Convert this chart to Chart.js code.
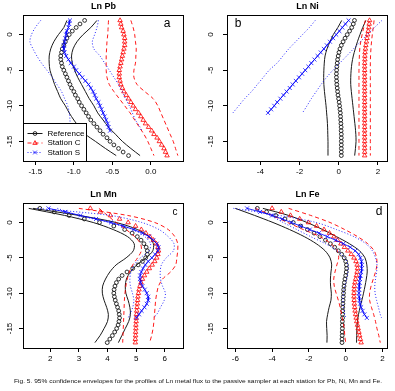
<!DOCTYPE html>
<html><head><meta charset="utf-8">
<script src="https://cdn.jsdelivr.net/npm/chart.js@4/dist/chart.umd.min.js"></script>
<style>
html,body{margin:0;padding:0;background:#fff;}
#wrap{position:relative;width:395px;height:391px;overflow:hidden;background:#fff;}
#wrap canvas{position:absolute;left:0;top:0;}
#cap{position:absolute;left:14px;top:378px;font-size:6px;font-family:"Liberation Sans",Arial,sans-serif;white-space:nowrap;color:#111;display:inline-block;transform-origin:0 0;line-height:6px;}
</style></head><body>
<div id="wrap">
<canvas id="ca" width="395" height="391"></canvas>
<canvas id="cb" width="395" height="391"></canvas>
<canvas id="cc" width="395" height="391"></canvas>
<canvas id="cd" width="395" height="391"></canvas>
<div id="cap">Fig. 5. 95% confidence envelopes for the profiles of Ln metal flux to the passive sampler at each station for Pb, Ni, Mn and Fe.</div>
</div>
<script>
// ---------- depths ----------
const depthFull = [2,1.5,1,0.5,0,-0.5,-1,-1.5,-2,-2.5,-3,-3.5,-4,-4.5,-5,-5.5,-6,-6.5,-7,-7.5,-8,-8.5,-9,-9.5,-10,-10.5,-11,-11.5,-12,-12.5,-13,-13.5,-14,-14.5,-15,-15.5,-16,-16.5,-17];
const depthS = [2,1.5,1,0.5,0,-0.5,-1,-1.5,-2,-2.5,-3,-3.5,-4,-4.5,-5,-5.5,-6,-6.5,-7,-7.5,-8,-8.5,-9,-9.5,-10,-10.5,-11,-11.5,-12,-12.5,-13,-13.5];
const depthNiS = [2,1.5,1,0.5,0,-0.5,-1,-1.5,-2,-2.5,-3,-3.5,-4,-4.5,-5,-5.5,-6,-6.5,-7,-7.5,-8,-8.5,-9,-9.5,-10,-10.5,-11];
const envDepth = [2,1,0,-1,-2,-3,-4,-5,-6,-7,-8,-9,-10,-11,-12,-13,-14,-15,-16,-17];
const envDepthS = [2,1,0,-1,-2,-3,-4,-5,-6,-7,-8,-9,-10,-11,-12,-13,-13.5];
const envDepthNiS = [2,1,0,-1,-2,-3,-4,-5,-6,-7,-8,-9,-10,-11];

// ---------- Ln Pb ----------
const pbRef = [-0.86,-0.92,-0.97,-1.02,-1.06,-1.09,-1.11,-1.13,-1.15,-1.16,-1.17,-1.17,-1.16,-1.15,-1.13,-1.11,-1.09,-1.07,-1.05,-1.03,-1.00,-0.98,-0.95,-0.93,-0.90,-0.87,-0.84,-0.81,-0.78,-0.74,-0.70,-0.66,-0.62,-0.57,-0.53,-0.48,-0.42,-0.36,-0.29];
const pbRefLo = [-1.09,-1.13,-1.20,-1.26,-1.30,-1.32,-1.32,-1.31,-1.28,-1.25,-1.21,-1.17,-1.11,-1.06,-1.00,-0.93,-0.85,-0.72,-0.59,-0.45];
const pbRefHi = [-0.70,-0.78,-0.88,-0.96,-1.01,-1.03,-1.02,-0.99,-0.95,-0.90,-0.85,-0.80,-0.74,-0.69,-0.62,-0.55,-0.46,-0.37,-0.26,-0.14];
const pbC = [-0.40,-0.39,-0.38,-0.36,-0.35,-0.34,-0.34,-0.34,-0.35,-0.36,-0.37,-0.38,-0.39,-0.40,-0.41,-0.41,-0.41,-0.40,-0.39,-0.37,-0.35,-0.32,-0.29,-0.26,-0.23,-0.20,-0.16,-0.13,-0.10,-0.07,-0.03,0.01,0.04,0.08,0.11,0.14,0.17,0.19,0.21];
const pbCLo = [-0.55,-0.555,-0.56,-0.57,-0.575,-0.58,-0.58,-0.58,-0.57,-0.54,-0.48,-0.41,-0.34,-0.27,-0.21,-0.15,-0.09,-0.04,0.00,0.04];
const pbCHi = [-0.26,-0.23,-0.21,-0.20,-0.19,-0.195,-0.20,-0.22,-0.22,-0.18,-0.08,0.03,0.09,0.13,0.17,0.21,0.25,0.29,0.32,0.35];
const pbS = [-1.05,-1.06,-1.07,-1.09,-1.10,-1.11,-1.12,-1.13,-1.13,-1.12,-1.10,-1.07,-1.04,-1.00,-0.97,-0.93,-0.89,-0.85,-0.81,-0.78,-0.75,-0.73,-0.71,-0.68,-0.66,-0.64,-0.62,-0.60,-0.58,-0.56,-0.55,-0.53];
const pbSLo = [-1.43,-1.50,-1.55,-1.57,-1.53,-1.48,-1.42,-1.35,-1.28,-1.22,-1.16,-1.12,-1.08,-1.06,-1.05,-1.05,-1.05];
const pbSHi = [-0.68,-0.70,-0.73,-0.76,-0.74,-0.66,-0.60,-0.54,-0.48,-0.42,-0.37,-0.33,-0.28,-0.24,-0.20,-0.14,-0.12];

// ---------- Ln Ni ----------
const niRef = [0.80,0.74,0.66,0.55,0.43,0.32,0.22,0.13,0.06,0.01,-0.03,-0.06,-0.08,-0.10,-0.11,-0.12,-0.12,-0.11,-0.10,-0.08,-0.06,-0.04,-0.01,0.02,0.04,0.06,0.08,0.09,0.10,0.11,0.12,0.12,0.13,0.13,0.13,0.13,0.13,0.13,0.13];
const niRefLo = [0.15,-0.05,-0.28,-0.45,-0.60,-0.70,-0.74,-0.76,-0.77,-0.76,-0.73,-0.69,-0.65,-0.62,-0.59,-0.57,-0.56,-0.55,-0.55,-0.55];
const niRefHi = [1.38,1.22,1.08,0.95,0.84,0.74,0.67,0.63,0.61,0.61,0.64,0.68,0.72,0.76,0.80,0.84,0.87,0.88,0.85,0.81];
const niC = [1.57,1.55,1.53,1.50,1.47,1.44,1.41,1.38,1.36,1.34,1.33,1.33,1.32,1.32,1.32,1.32,1.32,1.32,1.32,1.32,1.32,1.32,1.32,1.32,1.32,1.32,1.32,1.32,1.32,1.32,1.32,1.32,1.32,1.32,1.32,1.32,1.32,1.32,1.32];
const niCLo = [1.35,1.27,1.19,1.12,1.07,1.05,1.04,1.03,1.03,1.03,1.03,1.03,1.03,1.03,1.03,1.03,1.03,1.03,1.03,1.03];
const niCHi = [1.80,1.76,1.71,1.67,1.64,1.62,1.61,1.61,1.61,1.61,1.61,1.61,1.61,1.61,1.61,1.61,1.61,1.61,1.61,1.61];
const niS = [0.50,0.34,0.18,0.03,-0.13,-0.29,-0.45,-0.61,-0.76,-0.92,-1.08,-1.24,-1.40,-1.55,-1.71,-1.87,-2.03,-2.19,-2.35,-2.50,-2.66,-2.82,-2.98,-3.14,-3.29,-3.45,-3.61];
const niSLo = [-1.20,-1.50,-1.85,-2.20,-2.55,-2.85,-3.15,-3.55,-3.85,-4.15,-4.45,-4.80,-5.10,-5.40];
const niSHi = [2.20,1.82,1.45,1.10,0.75,0.40,0.05,-0.30,-0.62,-0.90,-1.15,-1.40,-1.62,-1.85];

// ---------- Ln Mn ----------
const mnRef = [1.64,2.14,2.66,3.19,3.72,4.22,4.60,4.86,5.04,5.17,5.27,5.35,5.39,5.39,5.33,5.22,5.07,4.88,4.68,4.51,4.39,4.31,4.26,4.23,4.22,4.24,4.27,4.31,4.35,4.39,4.41,4.42,4.40,4.37,4.32,4.25,4.17,4.08,3.99];
const mnRefLo = [1.25,2.50,3.50,4.20,4.70,4.93,4.90,4.65,4.30,4.08,3.93,3.83,3.82,3.88,3.97,4.03,4.00,3.88,3.74,3.56];
const mnRefHi = [1.40,3.00,4.30,5.05,5.45,5.60,5.58,5.35,5.02,4.80,4.66,4.62,4.64,4.72,4.78,4.80,4.74,4.62,4.50,4.38];
const mnC = [3.40,3.75,4.10,4.42,4.72,4.98,5.18,5.34,5.48,5.60,5.70,5.76,5.78,5.76,5.72,5.65,5.56,5.46,5.37,5.29,5.22,5.17,5.13,5.10,5.08,5.06,5.05,5.04,5.03,5.02,5.01,5.00,5.00,4.99,4.99,4.98,4.98,4.97,4.97];
const mnCLo = [3.70,4.00,4.30,4.65,4.95,5.15,5.18,5.05,4.88,4.76,4.69,4.64,4.61,4.59,4.58,4.57,4.56,4.55,4.54,4.53];
const mnCHi = [3.00,4.70,5.65,6.12,6.35,6.45,6.45,6.42,6.38,6.20,5.92,5.78,5.72,5.68,5.66,5.64,5.62,5.59,5.54,5.47];
const mnS = [1.94,2.52,3.05,3.60,4.12,4.55,4.92,5.22,5.45,5.60,5.72,5.78,5.76,5.66,5.55,5.42,5.32,5.24,5.18,5.14,5.13,5.16,5.22,5.30,5.37,5.42,5.42,5.37,5.29,5.19,5.10,5.01];
const mnSLo = [2.25,3.00,4.05,4.88,5.30,5.50,5.45,5.15,4.93,4.82,4.78,4.80,4.87,4.92,4.88,4.78,4.72];
const mnSHi = [1.55,4.10,5.20,5.80,6.12,6.32,6.30,6.05,5.88,5.84,5.85,5.92,6.02,5.98,5.85,5.72,5.60];

// ---------- Ln Fe ----------
const feRef = [-4.80,-4.30,-3.80,-3.30,-2.85,-2.45,-2.08,-1.72,-1.40,-1.10,-0.83,-0.60,-0.40,-0.22,-0.08,0.00,0.04,0.05,0.03,0.00,-0.04,-0.07,-0.09,-0.11,-0.12,-0.13,-0.14,-0.15,-0.16,-0.16,-0.17,-0.17,-0.18,-0.18,-0.18,-0.19,-0.19,-0.20,-0.20];
const feRefLo = [-6.00,-4.95,-3.95,-3.05,-2.25,-1.60,-1.12,-0.85,-0.76,-0.80,-0.83,-0.82,-0.78,-0.80,-0.90,-0.98,-1.04,-1.03,-1.01,-1.02];
const feRefHi = [-4.50,-3.10,-2.10,-1.25,-0.50,0.20,0.75,1.05,1.15,1.17,1.12,1.05,0.97,0.88,0.78,0.70,0.64,0.61,0.60,0.59];
const feC = [-4.00,-3.50,-3.00,-2.50,-2.02,-1.58,-1.18,-0.88,-0.64,-0.44,-0.26,-0.07,0.12,0.30,0.45,0.56,0.62,0.64,0.62,0.58,0.54,0.50,0.47,0.46,0.45,0.45,0.46,0.47,0.49,0.51,0.54,0.57,0.60,0.64,0.68,0.72,0.76,0.80,0.84];
const feCLo = [-4.90,-4.00,-3.15,-2.30,-1.40,-0.80,-0.45,-0.38,-0.48,-0.58,-0.65,-0.62,-0.52,-0.40,-0.30,-0.22,-0.15,-0.08,-0.05,0.00];
const feCHi = [-3.10,-1.90,-0.85,-0.05,0.65,1.20,1.55,1.68,1.70,1.62,1.50,1.38,1.30,1.30,1.40,1.52,1.62,1.70,1.80,1.88];
const feS = [-5.36,-4.65,-4.00,-3.45,-2.95,-2.45,-1.95,-1.45,-1.00,-0.55,-0.12,0.25,0.52,0.70,0.80,0.86,0.88,0.87,0.84,0.81,0.78,0.76,0.74,0.73,0.72,0.73,0.75,0.78,0.84,0.92,1.02,1.15];
const feSLo = [-4.90,-4.10,-3.40,-2.65,-1.90,-1.10,-0.45,-0.05,0.12,0.12,0.05,-0.05,-0.12,-0.15,-0.12,-0.05,0.00];
const feSHi = [-6.10,-3.60,-1.60,-0.50,0.45,1.10,1.45,1.62,1.70,1.68,1.62,1.58,1.60,1.68,1.78,1.88,1.95];

// ---------- axes / labels ----------
const yTicks = [0,-5,-10,-15];
const yLabels = ['0','-5','-10','-15'];
const yRange = [-17.76, 2.76];
const pbXTicks = [-1.5,-1.0,-0.5,0.0];   const pbXLabels = ['-1.5','-1.0','-0.5','0.0'];   const pbXRange = [-1.66, 0.43];
const niXTicks = [-4,-2,0,2];            const niXLabels = ['-4','-2','0','2'];           const niXRange = [-5.70, 2.51];
const mnXTicks = [2,3,4,5,6];            const mnXLabels = ['2','3','4','5','6'];         const mnXRange = [1.05, 6.67];
const feXTicks = [-6,-4,-2,0,2];         const feXLabels = ['-6','-4','-2','0','2'];      const feXRange = [-6.45, 2.30];
const titles = ['Ln Pb','Ln Ni','Ln Mn','Ln Fe'];
const letters = ['a','b','c','d'];
const legendLabels = ['Reference','Station C','Station S'];

// ---------- styles ----------
const BLK = '#1a1a1a', RED = 'rgba(255,0,0,0.9)', BLU = 'rgba(0,0,255,0.85)';
const FONT = '"Liberation Sans", Arial, sans-serif';
const STY = [
  {color: BLK, dash: [], marker: 'circle', meanLine: false},
  {color: RED, dash: [4,3], marker: 'triangle', meanLine: false},
  {color: BLU, dash: [1,2], marker: 'x', meanLine: true}
];

function drawMarker(ctx, m, x, y, color){
  ctx.save(); ctx.strokeStyle = color; ctx.lineWidth = 0.9; ctx.setLineDash([]);
  ctx.beginPath();
  if (m === 'circle') { ctx.arc(x, y, 1.9, 0, Math.PI*2); }
  else if (m === 'triangle') { ctx.moveTo(x, y-2.4); ctx.lineTo(x+2.2, y+1.4); ctx.lineTo(x-2.2, y+1.4); ctx.closePath(); }
  else { ctx.moveTo(x-1.9,y-1.9); ctx.lineTo(x+1.9,y+1.9); ctx.moveTo(x+1.9,y-1.9); ctx.lineTo(x-1.9,y+1.9); }
  ctx.stroke(); ctx.restore();
}

function drawLegend(chart){
  const ctx = chart.ctx, a = chart.chartArea;
  const x0 = Math.round(a.left) + 0.5, yb = Math.round(a.bottom) + 0.5, w = 63, h = 38;
  ctx.save();
  ctx.fillStyle = '#fff'; ctx.fillRect(x0, yb - h, w, h);
  ctx.strokeStyle = '#000'; ctx.lineWidth = 1; ctx.strokeRect(x0, yb - h, w, h);
  legendLabels.forEach((lab, i) => {
    const y = yb - h + 10 + i * 9.5, st = STY[i];
    ctx.strokeStyle = st.color; ctx.lineWidth = 1; ctx.setLineDash(st.dash);
    ctx.beginPath(); ctx.moveTo(x0 + 4, y); ctx.lineTo(x0 + 19, y); ctx.stroke(); ctx.setLineDash([]);
    drawMarker(ctx, st.marker, x0 + 11.5, y, st.color);
    ctx.fillStyle = '#000'; ctx.font = '8px ' + FONT; ctx.textAlign = 'left'; ctx.textBaseline = 'middle';
    ctx.fillText(lab, x0 + 24, y);
  });
  ctx.restore();
}

function deco(P){
  return {
    id: 'deco',
    afterDatasetsDraw(chart){ if (P.legend) drawLegend(chart); },
    afterDraw(chart){
      const ctx = chart.ctx, a = chart.chartArea, ys = chart.scales.y;
      ctx.save();
      ctx.strokeStyle = '#000'; ctx.lineWidth = 1; ctx.setLineDash([]);
      ctx.strokeRect(Math.round(a.left)+0.5, Math.round(a.top)+0.5, Math.round(a.right-a.left)-1, Math.round(a.bottom-a.top));
      ctx.fillStyle = '#000'; ctx.font = '8px ' + FONT; ctx.textAlign = 'center'; ctx.textBaseline = 'middle';
      yTicks.forEach((v, i) => {
        ctx.save(); ctx.translate(a.left - P.yOff, ys.getPixelForValue(v)); ctx.rotate(-Math.PI/2);
        ctx.fillText(yLabels[i], 0, 0); ctx.restore();
      });
      ctx.font = 'bold 9px ' + FONT;
      ctx.fillText(P.title, (a.left + a.right)/2, a.top - 8.5);
      ctx.font = P.letterSize + 'px ' + FONT;
      ctx.fillText(P.letter, P.letterRight ? a.right - P.letterDx : a.left + P.letterDx, a.top + 9);
      ctx.restore();
    }
  };
}

function pts(xs, ys){ return xs.map((v, i) => ({x: v, y: ys[i]})); }
function envDs(xs, ys, st){
  return {data: pts(xs, ys), showLine: true, borderColor: st.color, borderWidth: 1, borderDash: st.dash,
          pointRadius: 0, tension: 0.3, fill: false};
}
function markDs(xs, ys, st){
  const m = {circle: ['circle', 1.9], triangle: ['triangle', 2.6], x: ['crossRot', 2.8]}[st.marker];
  return {data: pts(xs, ys), showLine: st.meanLine, borderColor: st.color, borderWidth: 1, tension: 0,
          pointStyle: m[0], pointRadius: m[1],
          pointBorderColor: st.color, pointBackgroundColor: 'rgba(0,0,0,0)', pointBorderWidth: 0.9};
}

function makePanel(id, P){
  const [K, C, S] = STY;
  const datasets = [
    // first in array is drawn on top in Chart.js
    markDs(P.s, P.sDepth, S), envDs(P.sLo, P.sEnvDepth, S), envDs(P.sHi, P.sEnvDepth, S),
    markDs(P.c, depthFull, C), envDs(P.cLo, envDepth, C), envDs(P.cHi, envDepth, C),
    markDs(P.r, depthFull, K), envDs(P.rLo, envDepth, K), envDs(P.rHi, envDepth, K)
  ];
  const grid = {display: true, drawOnChartArea: false, drawTicks: true, tickLength: 4, color: '#000', lineWidth: 1};
  new Chart(document.getElementById(id), {
    type: 'scatter',
    data: {datasets},
    options: {
      responsive: false, animation: false, devicePixelRatio: 1, events: [],
      layout: {padding: P.pad},
      plugins: {legend: {display: false}, tooltip: {enabled: false}},
      scales: {
        x: {type: 'linear', min: P.xr[0], max: P.xr[1], position: 'bottom', grid, border: {display: false},
            afterFit: s => { s.height = 20; },
            afterBuildTicks: s => { s.ticks = P.xt.map(v => ({value: v})); },
            ticks: {color: '#000', font: {size: 8, family: FONT}, padding: 2, maxRotation: 0, minRotation: 0, autoSkip: false,
                    callback: (v, i) => P.xl[i]}},
        y: {type: 'linear', min: yRange[0], max: yRange[1], position: 'left', grid, border: {display: false},
            afterFit: s => { s.width = 20; },
            afterBuildTicks: s => { s.ticks = yTicks.map(v => ({value: v})); },
            ticks: {display: false}}
      }
    },
    plugins: [deco(P)]
  });
}

makePanel('ca', {r: pbRef, rLo: pbRefLo, rHi: pbRefHi, c: pbC, cLo: pbCLo, cHi: pbCHi, s: pbS, sLo: pbSLo, sHi: pbSHi,
  sDepth: depthS, sEnvDepth: envDepthS, xr: pbXRange, xt: pbXTicks, xl: pbXLabels,
  pad: {left: 3, right: 211, top: 15, bottom: 210}, title: titles[0], letter: letters[0], letterRight: true, letterDx: 17, letterSize: 12, yOff: 13, legend: true});
makePanel('cb', {r: niRef, rLo: niRefLo, rHi: niRefHi, c: niC, cLo: niCLo, cHi: niCHi, s: niS, sLo: niSLo, sHi: niSHi,
  sDepth: depthNiS, sEnvDepth: envDepthNiS, xr: niXRange, xt: niXTicks, xl: niXLabels,
  pad: {left: 207, right: 7, top: 15, bottom: 210}, title: titles[1], letter: letters[1], letterRight: false, letterDx: 11, letterSize: 12, yOff: 16, legend: false});
makePanel('cc', {r: mnRef, rLo: mnRefLo, rHi: mnRefHi, c: mnC, cLo: mnCLo, cHi: mnCHi, s: mnS, sLo: mnSLo, sHi: mnSHi,
  sDepth: depthS, sEnvDepth: envDepthS, xr: mnXRange, xt: mnXTicks, xl: mnXLabels,
  pad: {left: 3, right: 211, top: 203, bottom: 23}, title: titles[2], letter: letters[2], letterRight: true, letterDx: 9, letterSize: 10, yOff: 13, legend: false});
makePanel('cd', {r: feRef, rLo: feRefLo, rHi: feRefHi, c: feC, cLo: feCLo, cHi: feCHi, s: feS, sLo: feSLo, sHi: feSHi,
  sDepth: depthS, sEnvDepth: envDepthS, xr: feXRange, xt: feXTicks, xl: feXLabels,
  pad: {left: 207, right: 7, top: 203, bottom: 23}, title: titles[3], letter: letters[3], letterRight: true, letterDx: 9, letterSize: 12, yOff: 16, legend: false});

// caption width fit
const cap = document.getElementById('cap');
const cw = cap.getBoundingClientRect().width;
if (cw > 0) cap.style.transform = 'scaleX(' + (368 / cw) + ')';
</script>
</body></html>
